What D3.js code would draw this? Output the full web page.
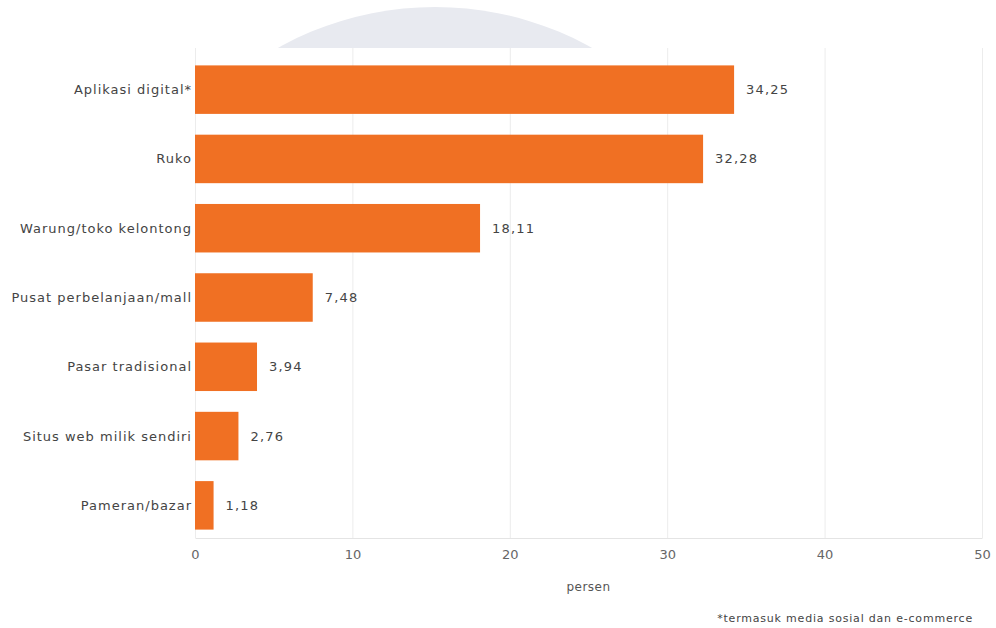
<!DOCTYPE html>
<html>
<head>
<meta charset="utf-8">
<script src="https://cdn.jsdelivr.net/npm/d3@7"></script>
<style>
  body { margin: 0; background: #fff; }
  svg { display: block; font-family: "DejaVu Sans", sans-serif; }
</style>
</head>
<body>
<script>
// data
const categories = [
      "Aplikasi digital*",
      "Ruko",
      "Warung/toko kelontong",
      "Pusat perbelanjaan/mall",
      "Pasar tradisional",
      "Situs web milik sendiri",
      "Pameran/bazar"
]
const values = [34.25, 32.28, 18.11, 7.48, 3.94, 2.76, 1.18]
const xTicks = [0, 10, 20, 30, 40, 50]
const xLabel = "persen"
const footnote = "*termasuk media sosial dan e-commerce"

const width = 996, height = 628
const marginLeft = 195, marginRight = 14, marginTop = 48, bottomY = 538

const data = categories.map((c, i) => ({ cat: c, val: values[i] }))

const xScale = d3.scaleLinear()
      .domain([0, 50])
      .range([marginLeft, width - marginRight])
const yScale = d3.scaleBand()
      .domain(categories)
      .range([55, bottomY + 2])
      .paddingInner(0.3)
      .paddingOuter(0.15)

const svg = d3.select("body").append("svg")
      .attr("width", width)
      .attr("height", height)

// faint watermark shape behind the chart
svg.append("circle")
      .attr("cx", 435)
      .attr("cy", 330)
      .attr("r", 323)
      .attr("fill", "#e8eaf0")
svg.append("rect")
      .attr("x", 0).attr("y", marginTop)
      .attr("width", width).attr("height", height - marginTop)
      .attr("fill", "#fff")

// grid + axis
svg.append("g")
      .attr("transform", `translate(0,${bottomY})`)
      .call(d3.axisBottom(xScale).tickValues(xTicks).tickSize(0).tickPadding(12))
      .call(g => g.select(".domain").attr("stroke", "#e4e4e4"))
      .call(g => g.selectAll(".tick line").clone()
            .attr("y2", marginTop - bottomY)
            .attr("stroke", "#ececec"))
      .call(g => g.selectAll(".tick text")
            .attr("font-size", 13)
            .attr("fill", "#666")
            .attr("font-family", "\"DejaVu Sans\", sans-serif"))

svg.append("text")
      .attr("x", xScale(25))
      .attr("y", 591)
      .attr("text-anchor", "middle")
      .attr("font-size", 12)
      .attr("letter-spacing", 0.5)
      .attr("fill", "#555")
      .text(xLabel)

// y labels
svg.append("g")
      .selectAll("text")
      .data(data)
      .join("text")
      .attr("x", marginLeft - 3)
      .attr("y", d => yScale(d.cat) + yScale.bandwidth() / 2)
      .attr("dy", "0.35em")
      .attr("text-anchor", "end")
      .attr("font-size", 13)
      .attr("letter-spacing", 1)
      .attr("fill", "#444")
      .text(d => d.cat)

// bars
svg.append("g")
      .selectAll("rect")
      .data(data)
      .join("rect")
      .attr("x", xScale(0))
      .attr("y", d => yScale(d.cat))
      .attr("width", d => xScale(d.val) - xScale(0))
      .attr("height", yScale.bandwidth())
      .attr("fill", "#f07023")

// value labels
const fmt = v => d3.format(".2f")(v).replace(".", ",")
svg.append("g")
      .selectAll("text")
      .data(data)
      .join("text")
      .attr("x", d => xScale(d.val) + 12)
      .attr("y", d => yScale(d.cat) + yScale.bandwidth() / 2)
      .attr("dy", "0.35em")
      .attr("font-size", 13)
      .attr("letter-spacing", 1.2)
      .attr("fill", "#444")
      .text(d => fmt(d.val))

// footnote
svg.append("text")
      .attr("x", 973)
      .attr("y", 622)
      .attr("text-anchor", "end")
      .attr("font-size", 11)
      .attr("letter-spacing", 0.8)
      .attr("fill", "#444")
      .text(footnote)
</script>
</body>
</html>
